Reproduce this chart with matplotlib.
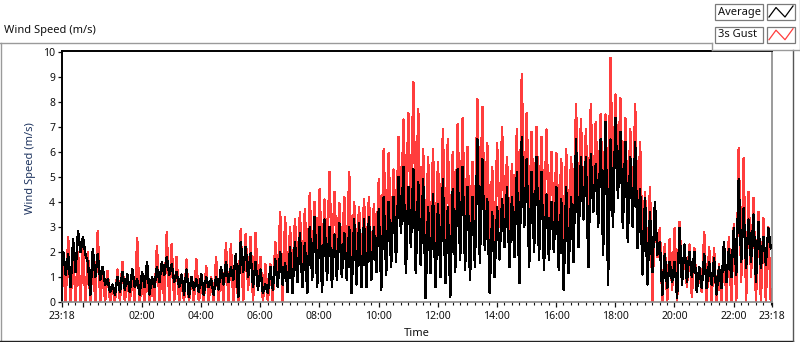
import matplotlib
matplotlib.use("Agg")
import matplotlib.pyplot as plt
from matplotlib.lines import Line2D
from matplotlib.patches import Rectangle
import numpy as np

plt.rcParams['font.family'] = ['Noto Sans', 'DejaVu Sans']

# ---------------- data (10-minute bins starting 23:18; per bin a high and a low reading) ----
start_time = "23:18"
bin_minutes = 10

avg_hi = [2.0, 1.9, 2.5, 2.85, 2.6, 1.6, 2.1, 1.9, 1.4, 0.9,
          0.7, 1.0, 1.2, 1.1, 1.3, 0.9, 1.2, 1.6, 1.0, 1.4,
          1.6, 1.8, 1.5, 1.2, 1.1, 1.3, 1.0, 0.9, 1.1, 1.0,
          0.9, 1.0, 1.4, 1.6, 1.4, 1.9,
          2.4, 2.2, 1.95, 1.6, 1.3, 0.7, 1.4, 1.7, 2.0, 1.55,
          2.2, 2.4, 2.75, 2.35, 3.0, 3.4, 3.0, 3.3, 3.0, 2.7,
          3.15, 2.75, 3.0, 3.3, 3.15, 3.3, 3.4, 3.0, 3.7, 4.2,
          4.0, 4.2, 5.0, 5.4, 4.6, 5.3,
          4.8, 4.9, 3.8, 4.3, 3.9, 4.9, 3.8, 4.5, 5.3, 5.4,
          4.6, 4.2, 6.5, 5.7, 4.1, 3.6, 3.8, 4.1, 4.6, 4.2,
          5.2, 6.6, 5.7, 5.2, 5.8, 5.2, 4.3, 4.0, 4.6, 4.1,
          4.6, 4.2, 6.5, 5.8, 5.8, 5.9,
          5.5, 6.5, 7.2, 6.5, 7.35, 6.8, 6.4, 5.8, 6.4, 4.5,
          4.15, 3.6, 4.0, 2.4, 1.9, 1.6, 1.6, 2.95, 2.3, 2.0,
          2.0, 1.4, 1.9, 1.6, 1.75, 1.4, 2.4, 2.1, 2.95, 4.9,
          3.75, 3.3, 3.5, 3.2, 2.6, 2.95]

avg_lo = [1.1, 0.6, 1.2, 2.0, 1.9, 0.3, 1.0, 0.9, 0.7, 0.4,
          0.3, 0.4, 0.5, 0.4, 0.6, 0.3, 0.6, 0.3, 0.6, 0.8,
          1.1, 1.1, 0.8, 0.6, 0.3, 0.2, 0.5, 0.4, 0.3, 0.6,
          0.3, 0.5, 0.7, 0.8, 0.9, 0.2,
          1.2, 1.0, 0.6, 0.5, 0.35, 0.35, 0.5, 0.6, 0.7, 0.4,
          0.35, 0.8, 0.6, 0.35, 0.9, 0.6, 0.4, 0.9, 0.6, 0.9,
          1.0, 0.9, 0.35, 0.7, 0.6, 0.6, 0.9, 1.2, 0.5, 1.1,
          1.4, 1.6, 2.75, 1.15, 2.2, 1.15,
          1.5, 0.15, 1.15, 0.6, 1.0, 0.75, 0.2, 1.2, 1.7, 1.3,
          0.9, 1.4, 1.55, 2.1, 0.35, 1.0, 1.7, 2.2, 1.4, 1.8,
          0.75, 3.0, 1.4, 2.0, 1.7, 1.3, 1.7, 2.0, 1.3, 0.5,
          1.15, 1.6, 2.2, 3.3, 1.4, 3.6,
          3.0, 1.9, 0.7, 3.0, 4.15, 2.95, 2.4, 3.0, 2.15, 1.1,
          0.7, 1.2, 1.9, 0.3, 0.55, 0.8, 0.15, 0.7, 0.8, 1.0,
          0.4, 0.55, 0.55, 0.7, 0.3, 0.55, 0.8, 1.0, 1.1, 1.6,
          1.35, 1.6, 0.8, 1.35, 1.5, 2.15]

gust_hi = [1.5, 2.6, 2.0, 2.0, 2.2, 2.0, 1.8, 2.85, 1.2, 1.25,
           0.6, 1.3, 1.6, 0.9, 1.1, 2.55, 0.8, 1.3, 0.7, 2.25,
           1.3, 2.8, 2.3, 1.8, 0.9, 1.7, 1.0, 1.7, 0.8, 1.45,
           1.0, 1.8, 1.4, 2.35, 2.3, 1.5,
           2.9, 2.7, 2.6, 2.75, 1.8, 1.5, 1.5, 2.4, 3.6, 3.4,
           3.0, 3.3, 3.6, 3.7, 4.35, 4.0, 4.5, 4.1, 5.2, 4.4,
           3.95, 4.2, 5.2, 4.0, 3.8, 4.1, 4.2, 3.9, 4.9, 6.1,
           5.95, 5.3, 6.6, 7.3, 7.55, 8.8,
           7.7, 6.1, 5.8, 6.1, 5.6, 6.9, 6.5, 6.0, 7.1, 7.35,
           6.2, 5.6, 8.1, 7.8, 6.35, 5.4, 6.35, 7.0, 5.8, 5.5,
           6.9, 9.1, 7.55, 6.8, 7.0, 6.6, 6.9, 6.0, 5.95, 5.7,
           6.1, 5.8, 7.9, 7.3, 6.9, 7.9,
           7.2, 7.5, 7.5, 9.75, 8.3, 8.15, 7.35, 6.9, 7.9, 6.4,
           4.4, 4.6, 4.0, 2.95, 2.3, 2.5, 2.95, 3.2, 2.0, 2.3,
           2.15, 1.2, 2.8, 2.2, 2.15, 1.5, 2.3, 2.6, 3.1, 6.15,
           5.75, 4.4, 4.15, 3.6, 3.35, 3.0]

gust_lo = [0, 0, 0, 0, 0, 0, 0, 0, 0, 0,
           0, 0, 0, 0, 0, 0, 0, 0, 0, 0,
           0, 0, 0, 0, 0, 0, 0, 0, 0, 0,
           0, 0, 0, 0, 0, 0,
           0, 0.5, 0, 0.8, 0, 0, 0, 0.8, 0, 0.6,
           1.0, 1.2, 1.0, 1.1, 1.2, 1.5, 1.3, 1.6, 1.5, 1.8,
           1.6, 1.5, 1.3, 1.8, 1.5, 1.8, 1.6, 2.0, 1.8, 2.2,
           2.3, 2.6, 3.0, 3.3, 3.2, 3.0,
           2.5, 1.8, 2.2, 2.0, 2.4, 2.3, 2.0, 2.6, 2.8, 2.5,
           2.6, 2.8, 3.0, 3.2, 2.5, 2.3, 3.0, 3.2, 2.8, 3.0,
           2.2, 3.8, 3.3, 3.0, 3.1, 2.6, 3.0, 2.8, 2.9, 2.4,
           2.7, 3.1, 3.5, 3.8, 3.2, 4.0,
           3.8, 3.4, 3.0, 4.2, 4.8, 3.6, 3.2, 3.5, 3.0, 2.0,
           1.5, 0, 1.8, 0, 0, 0.5, 0, 0.8, 0.6, 0.2,
           0.5, 0.4, 0, 0, 0, 0, 0, 0, 0, 0.8,
           0, 1.0, 0, 0, 0, 0]

hour_labels = ["02:00", "04:00", "06:00", "08:00", "10:00", "12:00",
               "14:00", "16:00", "18:00", "20:00", "22:00"]
series_names = ["Average", "3s Gust"]
y_ticks = [0, 1, 2, 3, 4, 5, 6, 7, 8, 9, 10]

# ---------------- helpers ----------------
W, H = 800, 342


def fx(x):
    return x / W


def fy(y):
    return 1 - y / H


def to_min(s):
    h, m = s.split(":")
    return int(h) * 60 + int(m)


t0 = to_min(start_time)
total = 24 * 60
n = len(avg_hi)
t = np.empty(2 * n)
t[0::2] = np.arange(n) * bin_minutes + 2.5
t[1::2] = np.arange(n) * bin_minutes + 7.5


def interleave(hi, lo):
    v = np.empty(2 * len(hi))
    v[0::2] = hi
    v[1::2] = lo
    return v


avg = interleave(avg_hi, avg_lo)
gust = interleave(gust_hi, gust_lo)

RED = "#ff3d3d"

fig = plt.figure(figsize=(W / 100, H / 100), dpi=100)
fig.patch.set_facecolor("white")

ax = fig.add_axes([fx(62), fy(302), (772 - 62) / W, (302 - 51) / H])
ax.plot(t, gust, color=RED, lw=1.0, zorder=2, antialiased=False)
ax.plot(t, avg, color="black", lw=1.0, zorder=3, antialiased=False)
ax.set_xlim(0, total)
ax.set_ylim(0, 10.04)

# spines: dark top/left, gray bottom/right
for s in ["left", "top"]:
    ax.spines[s].set_color("black")
    ax.spines[s].set_linewidth(1.4)
for s in ["bottom", "right"]:
    ax.spines[s].set_color("#8a8a8a")
    ax.spines[s].set_linewidth(1.2)

# y ticks
ax.set_yticks(y_ticks)
ax.set_yticklabels([str(v) for v in y_ticks])
ax.tick_params(axis="y", direction="out", length=3, width=0.9, pad=2,
               labelsize=7.5, colors="#111111")

# x ticks
midnight = (24 * 60 - t0) % total
major_pos = [0, midnight]
major_lab = [start_time, ""]
for lab in hour_labels:
    major_pos.append((to_min(lab) - t0) % total)
    major_lab.append(lab)
major_pos.append(total)
major_lab.append(start_time)
ax.set_xticks(major_pos)
ax.set_xticklabels(major_lab)
ax.set_xticks(np.arange(midnight % 15, total, 15), minor=True)
ax.tick_params(axis="x", which="major", direction="out", length=3.5, width=0.9,
               pad=3, labelsize=7.5, colors="#111111")
ax.tick_params(axis="x", which="minor", direction="out", length=2, width=0.8,
               colors="#111111")

# labels
fig.text(fx(4), fy(31), "Wind Speed (m/s)", fontsize=8, ha="left", va="center",
         color="#111111")
fig.text(fx(31), fy(168), "Wind Speed (m/s)", fontsize=8, rotation=90,
         ha="center", va="center", color="#1f3560")
fig.text(fx(417), fy(334), "Time", fontsize=8, ha="center", va="center",
         color="#111111")


def line(x0, y0, x1, y1, color, lw=1.0):
    fig.add_artist(Line2D([fx(x0), fx(x1)], [fy(y0), fy(y1)], color=color,
                          lw=lw, transform=fig.transFigure))


# outer frame
line(0, 42.5, 711.5, 42.5, "#9a9a9a")
line(0.5, 42.5, 0.5, 341, "#9a9a9a")
line(0, 340.5, 792.5, 340.5, "#222222")
line(792.5, 49.5, 792.5, 341, "#555555")
# legend panel border
line(711.5, 42.5, 711.5, 49.5, "#9a9a9a")
line(711.5, 49.5, 799.5, 49.5, "#9a9a9a")
line(799.5, 0, 799.5, 49.5, "#9a9a9a")

# legend
colors = ["black", RED]
for i, (name, c) in enumerate(zip(series_names, colors)):
    y0 = 4 + i * 22.7
    fig.add_artist(Rectangle((fx(715), fy(y0 + 16)), 48 / W, 16 / H,
                             transform=fig.transFigure, facecolor="white",
                             edgecolor="#7a7a7a", lw=0.9))
    fig.text(fx(717.5), fy(y0 + 8), name, fontsize=8, ha="left", va="center",
             color="#111111")
    fig.add_artist(Rectangle((fx(767), fy(y0 + 16)), 28 / W, 16 / H,
                             transform=fig.transFigure, facecolor="white",
                             edgecolor="#7a7a7a", lw=0.9))
    xs = [769, 776, 785, 793]
    ys = [y0 + 13, y0 + 3.5, y0 + 13, y0 + 2]
    fig.add_artist(Line2D([fx(v) for v in xs], [fy(v) for v in ys], color=c,
                          lw=0.9, transform=fig.transFigure))

fig.savefig("out.png", dpi=100)
